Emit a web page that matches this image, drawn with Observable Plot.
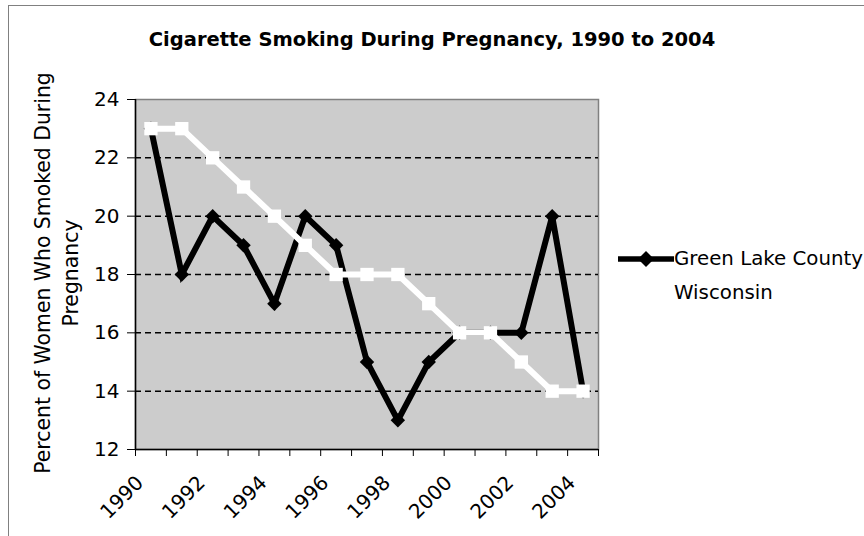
<!DOCTYPE html>
<html>
<head>
<meta charset="utf-8">
<script src="https://cdn.jsdelivr.net/npm/d3@7"></script>
<script src="https://cdn.jsdelivr.net/npm/@observablehq/plot@0.6"></script>
<style>
  html, body { margin: 0; padding: 0; background: #fff; }
  #wrap { position: relative; width: 864px; height: 536px; overflow: hidden; font-family: "DejaVu Sans", Verdana, sans-serif; }
  #border { position: absolute; left: 8px; top: 5px; width: 900px; height: 600px; border: 1px solid #808080; box-sizing: border-box; }
  #chart { position: absolute; left: 0; top: 0; }
  #title { position: absolute; left: 0; width: 864px; top: 28px; text-align: center; font-weight: bold; font-size: 19.5px; color: #000; }
  #ytitle { position: absolute; left: 57px; top: 273px; width: 460px; transform: translate(-50%, -50%) rotate(-90deg); text-align: center; font-size: 20.4px; line-height: 28px; color: #000; white-space: nowrap; }
  .leg { position: absolute; font-size: 19.8px; color: #000; white-space: nowrap; line-height: 24px; }
</style>
</head>
<body>
<div id="wrap">
  <div id="border"></div>
  <div id="chart"></div>
  <div id="title">Cigarette Smoking During Pregnancy, 1990 to 2004</div>
  <div id="ytitle">Percent of Women Who Smoked During<br>Pregnancy</div>
  <svg class="leg" style="left:616px; top:249px;" width="60" height="20">
    <line x1="2" y1="10" x2="58" y2="10" stroke="#000" stroke-width="5.5"/>
    <path d="M30,2 L38,10 L30,18 L22,10 Z" fill="#000"/>
  </svg>
  <div class="leg" style="left:674px; top:247px;">Green Lake County</div>
  <div class="leg" style="left:674px; top:281px;">Wisconsin</div>
</div>
<script>
const years = [1990, 1991, 1992, 1993, 1994, 1995, 1996, 1997, 1998, 1999, 2000, 2001, 2002, 2003, 2004];
const greenLake = [23, 18, 20, 19, 17, 20, 19, 15, 13, 15, 16, 16, 16, 20, 14];
const wisconsin = [23, 23, 22, 21, 20, 19, 18, 18, 18, 17, 16, 16, 15, 14, 14];
const labelYears = [1990, 1992, 1994, 1996, 1998, 2000, 2002, 2004];
const yTicks = [12, 14, 16, 18, 20, 22, 24];
const gridValues = [14, 16, 18, 20, 22];

const gl = years.map((y, i) => ({year: y, value: greenLake[i]}));
const wi = years.map((y, i) => ({year: y, value: wisconsin[i]}));
const xMin = years[0] - 0.5, xMax = years[years.length - 1] + 0.5;
const boundaries = years.map(y => y - 0.5).concat([xMax]);

const chart = Plot.plot({
  width: 864,
  height: 536,
  marginLeft: 135,
  marginRight: 266,
  marginTop: 99,
  marginBottom: 87,
  style: {fontFamily: '"DejaVu Sans", Verdana, sans-serif', fontSize: "20px", color: "#000", background: "transparent"},
  x: {domain: [xMin, xMax], label: null},
  y: {domain: [12, 24], label: null},
  marks: [
    Plot.frame({fill: "#cccccc", stroke: "#808080", strokeWidth: 1.5}),
    Plot.gridY(gridValues, {stroke: "#000", strokeOpacity: 1, strokeWidth: 1.5, strokeDasharray: "6,4"}),
    Plot.ruleX([xMin], {stroke: "#000", strokeWidth: 1.5}),
    Plot.ruleY([12], {stroke: "#000", strokeWidth: 1.5}),
    Plot.axisX(boundaries, {tickSize: 7, tickFormat: () => "", stroke: "#000", label: null}),
    Plot.axisX(labelYears, {tickSize: 0, tickRotate: -45, tickPadding: 30, dx: -11, tickFormat: d => String(d), fontSize: 20, label: null}),
    Plot.axisY(yTicks, {tickSize: 8, tickPadding: 8, tickFormat: d => String(d), fontSize: 20, label: null, stroke: "#000"}),
    Plot.line(gl, {x: "year", y: "value", stroke: "#000", strokeWidth: 6, strokeLinejoin: "miter", strokeMiterlimit: 3}),
    Plot.dot(gl, {x: "year", y: "value", symbol: "diamond2", r: 6.5, fill: "#000", stroke: "none"}),
    Plot.line(wi, {x: "year", y: "value", stroke: "#fff", strokeWidth: 6, strokeLinejoin: "miter", strokeMiterlimit: 3}),
    Plot.dot(wi, {x: "year", y: "value", symbol: "square", r: 7.5, fill: "#fff", stroke: "none"})
  ]
});
document.getElementById("chart").appendChild(chart);
</script>
</body>
</html>
